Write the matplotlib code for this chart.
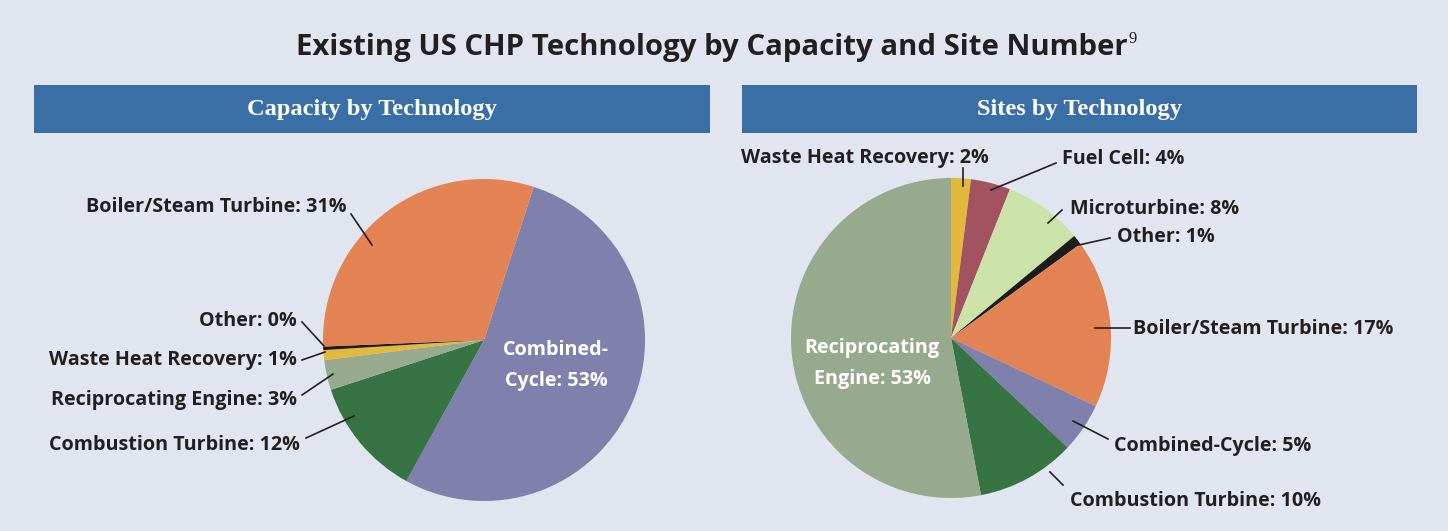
import matplotlib
matplotlib.use("Agg")
import matplotlib.pyplot as plt
from matplotlib.patches import Rectangle

# data
cap_labels = ['Combined-Cycle', 'Combustion Turbine', 'Reciprocating Engine',
              'Waste Heat Recovery', 'Other', 'Boiler/Steam Turbine']
cap_values = [53, 12, 3, 1, 0.35, 30.65]
cap_text = ['53%', '12%', '3%', '1%', '0%', '31%']

site_labels = ['Waste Heat Recovery', 'Fuel Cell', 'Microturbine', 'Other',
               'Boiler/Steam Turbine', 'Combined-Cycle', 'Combustion Turbine',
               'Reciprocating Engine']
site_values = [2, 4, 8, 1, 17, 5, 10, 53]
site_text = ['2%', '4%', '8%', '1%', '17%', '5%', '10%', '53%']

colors = {
    'Combined-Cycle': '#8080ad',
    'Combustion Turbine': '#367444',
    'Reciprocating Engine': '#97aa8d',
    'Waste Heat Recovery': '#e2b93b',
    'Other': '#1c1c1c',
    'Boiler/Steam Turbine': '#e38354',
    'Fuel Cell': '#a3525f',
    'Microturbine': '#cbe3a8',
}

bg = '#e1e5f0'
header = '#3a6fa6'
txt = '#231f20'
lab_font = ['Open Sans', 'DejaVu Sans']
lab_size = 14.2

W, H = 1448, 531
fig = plt.figure(figsize=(W / 100, H / 100), dpi=100, facecolor=bg)

# pies go in a y-up axes underneath
axp = fig.add_axes([0, 0, 1, 1], zorder=0)
axp.pie(cap_values, colors=[colors[l] for l in cap_labels], center=(484, H - 340),
        radius=161, startangle=72, counterclock=False, frame=True)
axp.pie(site_values, colors=[colors[l] for l in site_labels], center=(951, H - 338),
        radius=160, startangle=90, counterclock=False, frame=True)
axp.set_xlim(0, W)
axp.set_ylim(0, H)
axp.axis('off')

# text layer on top, pixel coords with y down
ax = fig.add_axes([0, 0, 1, 1], zorder=1)
ax.set_xlim(0, W)
ax.set_ylim(H, 0)
ax.axis('off')
ax.patch.set_alpha(0)

# title
t = ax.text(712, 47, 'Existing US CHP Technology by Capacity and Site Number',
            ha='center', va='center', fontsize=21.2, fontweight='bold',
            family=['Open Sans', 'DejaVu Sans'], color=txt)
fig.canvas.draw()
bb = t.get_window_extent()
ax.text(bb.x1 + 1, 39, '9', ha='left', va='center', fontsize=12,
        family='Liberation Serif', color=txt)

# header bars
for x0, x1, label in [(34, 710, 'Capacity by Technology'), (742, 1417, 'Sites by Technology')]:
    ax.add_patch(Rectangle((x0, 85), x1 - x0, 48, color=header, lw=0))
    ax.text((x0 + x1) / 2, 109, label, ha='center', va='center', color='white',
            fontsize=17.6, fontweight='bold', family='Liberation Serif')


def lab(x, y, s, ha, line=None, color=txt):
    ax.text(x, y + 1.5, s, ha=ha, va='center', fontsize=lab_size, fontweight='bold',
            family=lab_font, color=color, linespacing=1.7)
    if line:
        (a, b), (c, d) = line
        ax.plot([a, c], [b, d], color=txt, lw=1.2)


# left pie labels
lab(347, 205, 'Boiler/Steam Turbine: ' + cap_text[5], 'right', ((351, 214), (372, 245)))
lab(297, 319, 'Other: ' + cap_text[4], 'right', ((302, 322), (324, 346)))
lab(297, 358, 'Waste Heat Recovery: ' + cap_text[3], 'right', ((302, 360), (325, 352)))
lab(297, 398, 'Reciprocating Engine: ' + cap_text[2], 'right', ((302, 395), (333, 374)))
lab(300, 444, 'Combustion Turbine: ' + cap_text[1], 'right', ((306, 438), (354, 416)))
lab(556, 364, 'Combined-\nCycle: ' + cap_text[0], 'center', color='white')

# right pie labels
lab(989, 157, 'Waste Heat Recovery: ' + site_text[0], 'right', ((963, 168), (963, 186)))
lab(1062, 157, 'Fuel Cell: ' + site_text[1], 'left', ((1056, 163), (991, 190)))
lab(1070, 207, 'Microturbine: ' + site_text[2], 'left', ((1062, 210), (1048, 223)))
lab(1117, 235, 'Other: ' + site_text[3], 'left', ((1110, 238), (1079, 245)))
lab(1133, 328, 'Boiler/Steam Turbine: ' + site_text[4], 'left', ((1130, 328), (1095, 328)))
lab(1114, 445, 'Combined-Cycle: ' + site_text[5], 'left', ((1108, 439), (1073, 421)))
lab(1070, 500, 'Combustion Turbine: ' + site_text[6], 'left', ((1063, 485), (1050, 472)))
lab(872, 362, 'Reciprocating\nEngine: ' + site_text[7], 'center', color='white')

fig.savefig('out.png', dpi=100, facecolor=bg)
